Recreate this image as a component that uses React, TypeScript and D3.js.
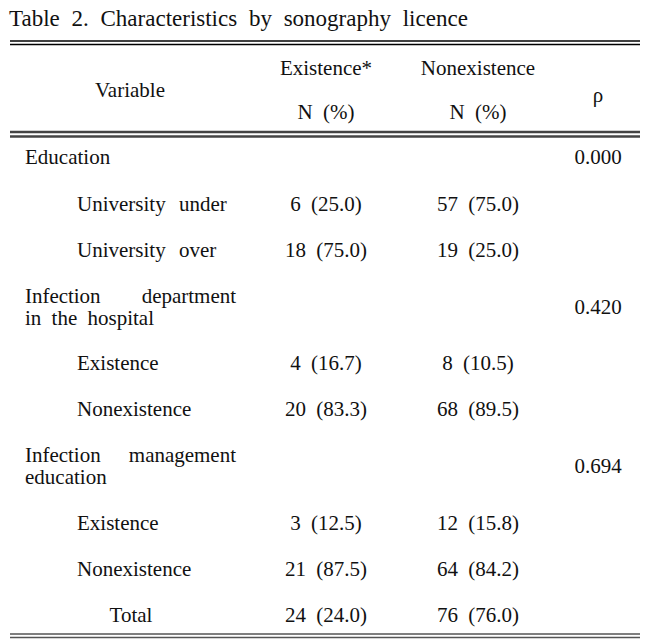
import * as d3 from "d3"

const title = "Table 2. Characteristics by sonography licence"
const headerCols = ["Existence*", "Nonexistence"]
const headerSub = "N (%)"

// row labels (one or two lines), indent level, counts and percentages
const rowLabels = [
  ["Education"],
  ["University under"],
  ["University over"],
  ["Infection department", "in the hospital"],
  ["Existence"],
  ["Nonexistence"],
  ["Infection management", "education"],
  ["Existence"],
  ["Nonexistence"],
  ["Total"],
]
const rowIndent = [0, 1, 1, 0, 1, 1, 0, 1, 1, 2]
const existN = [null, 6, 18, null, 4, 20, null, 3, 21, 24]
const existPct = [null, "25.0", "75.0", null, "16.7", "83.3", null, "12.5", "87.5", "24.0"]
const nonN = [null, 57, 19, null, 8, 68, null, 12, 64, 76]
const nonPct = [null, "75.0", "25.0", null, "10.5", "89.5", null, "15.8", "84.2", "76.0"]
const pValues = ["0.000", null, null, "0.420", null, null, "0.694", null, null, null]

const W = 659
const H = 639
const FS = 21

export default function App() {
  const font = "'Liberation Serif', 'Times New Roman', serif"
  const rowY = [157, 204, 250, 307, 363, 409, 466, 523, 569, 615]
  const colX = d3.scaleOrdinal<string, number>().domain(["var", "ex", "non", "p"]).range([130, 326, 478, 598])
  const indentX = [25, 77, 131]
  const x0 = 10
  const x1 = 640

  return (
    <svg width={W} height={H} style={{ position: "absolute", left: 0, top: 0 }}
      fontFamily={font} fill="#111">
      <rect width={W} height={H} fill="#fff" />
      <text x={9} y={26} fontSize={23} wordSpacing={6}>{title}</text>
      <line x1={x0} x2={x1} y1={41} y2={41} stroke="#000" strokeWidth={1.6} />
      <line x1={x0} x2={x1} y1={44.5} y2={44.5} stroke="#000" strokeWidth={1.6} />

      <text x={colX("var")} y={90} fontSize={FS} textAnchor="middle" dominantBaseline="central">Variable</text>
      {headerCols.map((h, i) => (
        <g key={h}>
          <text x={colX(i === 0 ? "ex" : "non")} y={68} fontSize={FS} textAnchor="middle" dominantBaseline="central">{h}</text>
          <text x={colX(i === 0 ? "ex" : "non")} y={112} fontSize={FS} textAnchor="middle" dominantBaseline="central" wordSpacing={5}>{headerSub}</text>
        </g>
      ))}
      <text x={colX("p")} y={95} fontSize={FS} textAnchor="middle" dominantBaseline="central">ρ</text>
      <line x1={x0} x2={x1} y1={132} y2={132} stroke="#444" strokeWidth={2.4} />
      <line x1={x0} x2={x1} y1={136.5} y2={136.5} stroke="#444" strokeWidth={2.4} />

      {rowLabels.map((lab, i) => {
        const cy = rowY[i]
        const lx = indentX[rowIndent[i]]
        return (
          <g key={i}>
            {lab.length === 1 ? (
              <text x={lx} y={cy} fontSize={FS} dominantBaseline="central" wordSpacing={8}
                textAnchor={rowIndent[i] === 2 ? "middle" : "start"}>{lab[0]}</text>
            ) : (
              <>
                <text x={lx} y={cy - 11} fontSize={FS} dominantBaseline="central"
                  textLength={211} lengthAdjust="spacing" wordSpacing={i === 3 ? 36 : 23}>{lab[0]}</text>
                <text x={lx} y={cy + 11} fontSize={FS} dominantBaseline="central" wordSpacing={5}>{lab[1]}</text>
              </>
            )}
            {existN[i] !== null && (
              <text x={colX("ex")} y={cy} fontSize={FS} textAnchor="middle" dominantBaseline="central" wordSpacing={5}>
                {`${existN[i]} (${existPct[i]})`}
              </text>
            )}
            {nonN[i] !== null && (
              <text x={colX("non")} y={cy} fontSize={FS} textAnchor="middle" dominantBaseline="central" wordSpacing={5}>
                {`${nonN[i]} (${nonPct[i]})`}
              </text>
            )}
            {pValues[i] !== null && (
              <text x={colX("p")} y={cy} fontSize={FS} textAnchor="middle" dominantBaseline="central">{pValues[i]}</text>
            )}
          </g>
        )
      })}

      <line x1={x0} x2={x1} y1={634} y2={634} stroke="#555" strokeWidth={1.6} />
      <line x1={x0} x2={x1} y1={637.5} y2={637.5} stroke="#555" strokeWidth={1.6} />
    </svg>
  )
}
